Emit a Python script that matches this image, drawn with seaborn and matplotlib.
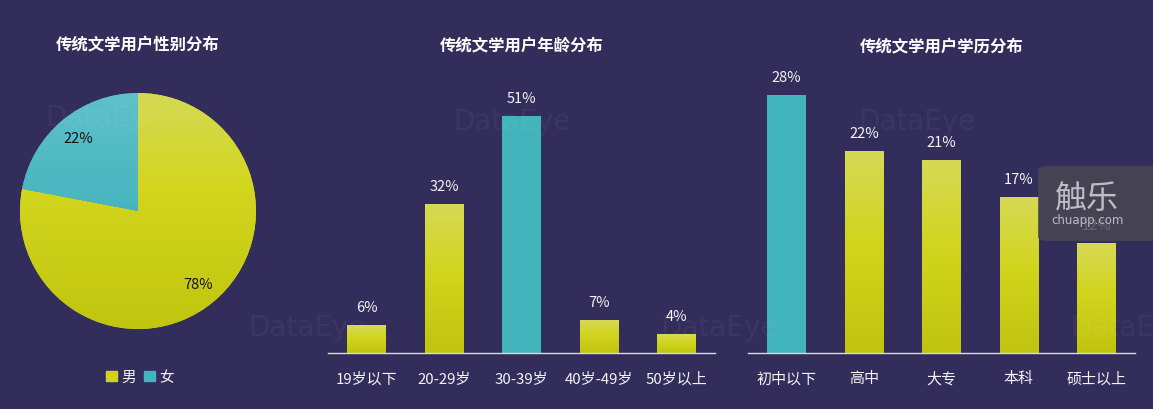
import numpy as np
import pandas as pd
import matplotlib
matplotlib.use("Agg")
import matplotlib.pyplot as plt
import seaborn as sns
from matplotlib.patches import Patch, FancyBboxPatch
from matplotlib.colors import LinearSegmentedColormap

# ---------------- data ----------------
gender_labels = ["男", "女"]
gender_values = [78, 22]

age_labels = ["19岁以下", "20-29岁", "30-39岁", "40岁-49岁", "50岁以上"]
age_values = [6, 32, 51, 7, 4]

edu_labels = ["初中以下", "高中", "大专", "本科", "硕士以上"]
edu_values = [28, 22, 21, 17, 12]

titles = ["传统文学用户性别分布", "传统文学用户年龄分布", "传统文学用户学历分布"]

# ---------------- style ----------------
BG = "#332D5B"
YEL = "#D0D41C"
TEAL = "#42B4BC"
TXT = "#F4F4F4"

sns.set_theme(style="white")
plt.rcParams["font.family"] = ["Noto Sans CJK SC", "DejaVu Sans"]

W, H = 1153, 410
fig = plt.figure(figsize=(W / 100, H / 100), dpi=100, facecolor=BG)

yel_cmap = LinearSegmentedColormap.from_list(
    "yel", [(0, "#C0C40F"), (0.55, "#D1D51D"), (1, "#D6D956")])
teal_pie_cmap = LinearSegmentedColormap.from_list(
    "tp", [(0, "#2DA8B5"), (1, "#5FC1C9")])
yel_pie_cmap = LinearSegmentedColormap.from_list(
    "yp", [(0, "#C0C50F"), (0.6, "#D2D61D"), (1, "#D5D955")])
grad = np.linspace(0, 1, 256).reshape(-1, 1)


def px_axes(x0, y_top, w, h):
    return fig.add_axes([x0 / W, 1 - (y_top + h) / H, w / W, h / H])


# ---------------- watermarks ----------------
for (wx, wy, s) in [(45, 118, "DataEye"), (453, 122, "DataEye"), (858, 122, "DataEye"),
                    (248, 328, "DataEye"), (660, 328, "DataEye"), (1070, 328, "DataE")]:
    fig.text(wx / W, 1 - wy / H, s, color="white", alpha=0.04,
             fontsize=20, ha="left", va="center", family="DejaVu Sans")

# ---------------- pie ----------------
axp = px_axes(20, 94, 236, 236)
axp.set_facecolor("none")
wedges, texts, autotexts = axp.pie(
    gender_values, colors=[YEL, TEAL], startangle=90, counterclock=False,
    autopct="%d%%", pctdistance=0.8, radius=1.0,
    wedgeprops=dict(linewidth=0, edgecolor="none"),
    textprops=dict(color="#111111", fontsize=10.5))
for w, cm in zip(wedges, [yel_pie_cmap, teal_pie_cmap]):
    im = axp.imshow(grad, extent=(-1, 1, -1, 1), origin="lower", cmap=cm,
                    aspect="auto", zorder=w.get_zorder() + 0.1)
    im.set_clip_path(w)
for t in autotexts:
    t.set_zorder(5)
axp.set_xlim(-1, 1)
axp.set_ylim(-1, 1)
axp.set_aspect("equal")
axp.axis("off")

fig.legend(handles=[Patch(color=YEL, label="男"), Patch(color=TEAL, label="女")],
           loc="center", bbox_to_anchor=(140 / W, 1 - 378 / H), ncol=2,
           frameon=False, fontsize=10.5, labelcolor=TXT, handlelength=0.75,
           handleheight=0.75, handletextpad=0.3, columnspacing=0.6)


# ---------------- bars ----------------
def bar_panel(x0, labels, values, ymax, highlight):
    ax = px_axes(x0, 70, 387, 284)
    ax.set_facecolor("none")
    df = pd.DataFrame({"cat": labels, "val": values})
    sns.barplot(data=df, x="cat", y="val", ax=ax, color=YEL, width=0.5,
                saturation=1, errorbar=None, linewidth=0, edgecolor="none")
    for i, p in enumerate(ax.patches):
        p.set_linewidth(0)
        if i == highlight:
            p.set_facecolor(TEAL)
        else:
            bx, bw, bh = p.get_x(), p.get_width(), p.get_height()
            im = ax.imshow(grad, extent=(bx, bx + bw, 0, bh), origin="lower",
                           cmap=yel_cmap, aspect="auto", zorder=p.get_zorder() + 0.1)
            im.set_clip_path(p)
        ax.annotate(f"{values[i]}%", (p.get_x() + p.get_width() / 2, p.get_height()),
                    xytext=(0, 18), textcoords="offset pixels", ha="center",
                    va="center", color=TXT, fontsize=10.5, zorder=6)
    ax.set_xlim(-0.5, len(labels) - 0.5)
    ax.set_ylim(0, ymax)
    ax.set_xlabel("")
    ax.set_ylabel("")
    ax.set_yticks([])
    for s in ["top", "right", "left"]:
        ax.spines[s].set_visible(False)
    ax.spines["bottom"].set_color("#DADADA")
    ax.spines["bottom"].set_linewidth(1.0)
    ax.spines["bottom"].set_zorder(7)
    ax.tick_params(axis="x", length=0, pad=13, labelsize=10.8, labelcolor=TXT)
    return ax


bar_panel(328, age_labels, age_values, 284 / 4.65, 2)
bar_panel(748, edu_labels, edu_values, 284 / 9.2, 0)

# ---------------- titles ----------------
for cx, cy, t in zip([138, 522, 942], [45, 46, 47], titles):
    fig.text(cx / W, 1 - cy / H, t, ha="center", va="center", color="white",
             fontsize=11.8, fontweight="bold")

# ---------------- chuapp badge ----------------
badge = FancyBboxPatch((1038 / W, 1 - 242 / H), 130 / W, 75 / H,
                       boxstyle="round,pad=0,rounding_size=0.01",
                       transform=fig.transFigure, facecolor="#4A4752",
                       edgecolor="none", alpha=0.82, zorder=20)
fig.add_artist(badge)
fig.text(1087 / W, 1 - 199 / H, "触乐", ha="center", va="center",
         color="#BEBDC3", fontsize=23, zorder=21)
fig.text(1088 / W, 1 - 221 / H, "chuapp.com", ha="center", va="center",
         color="#BEBDC3", fontsize=8.5, zorder=21, family="DejaVu Sans")

fig.savefig("out.png", dpi=100, facecolor=BG)
